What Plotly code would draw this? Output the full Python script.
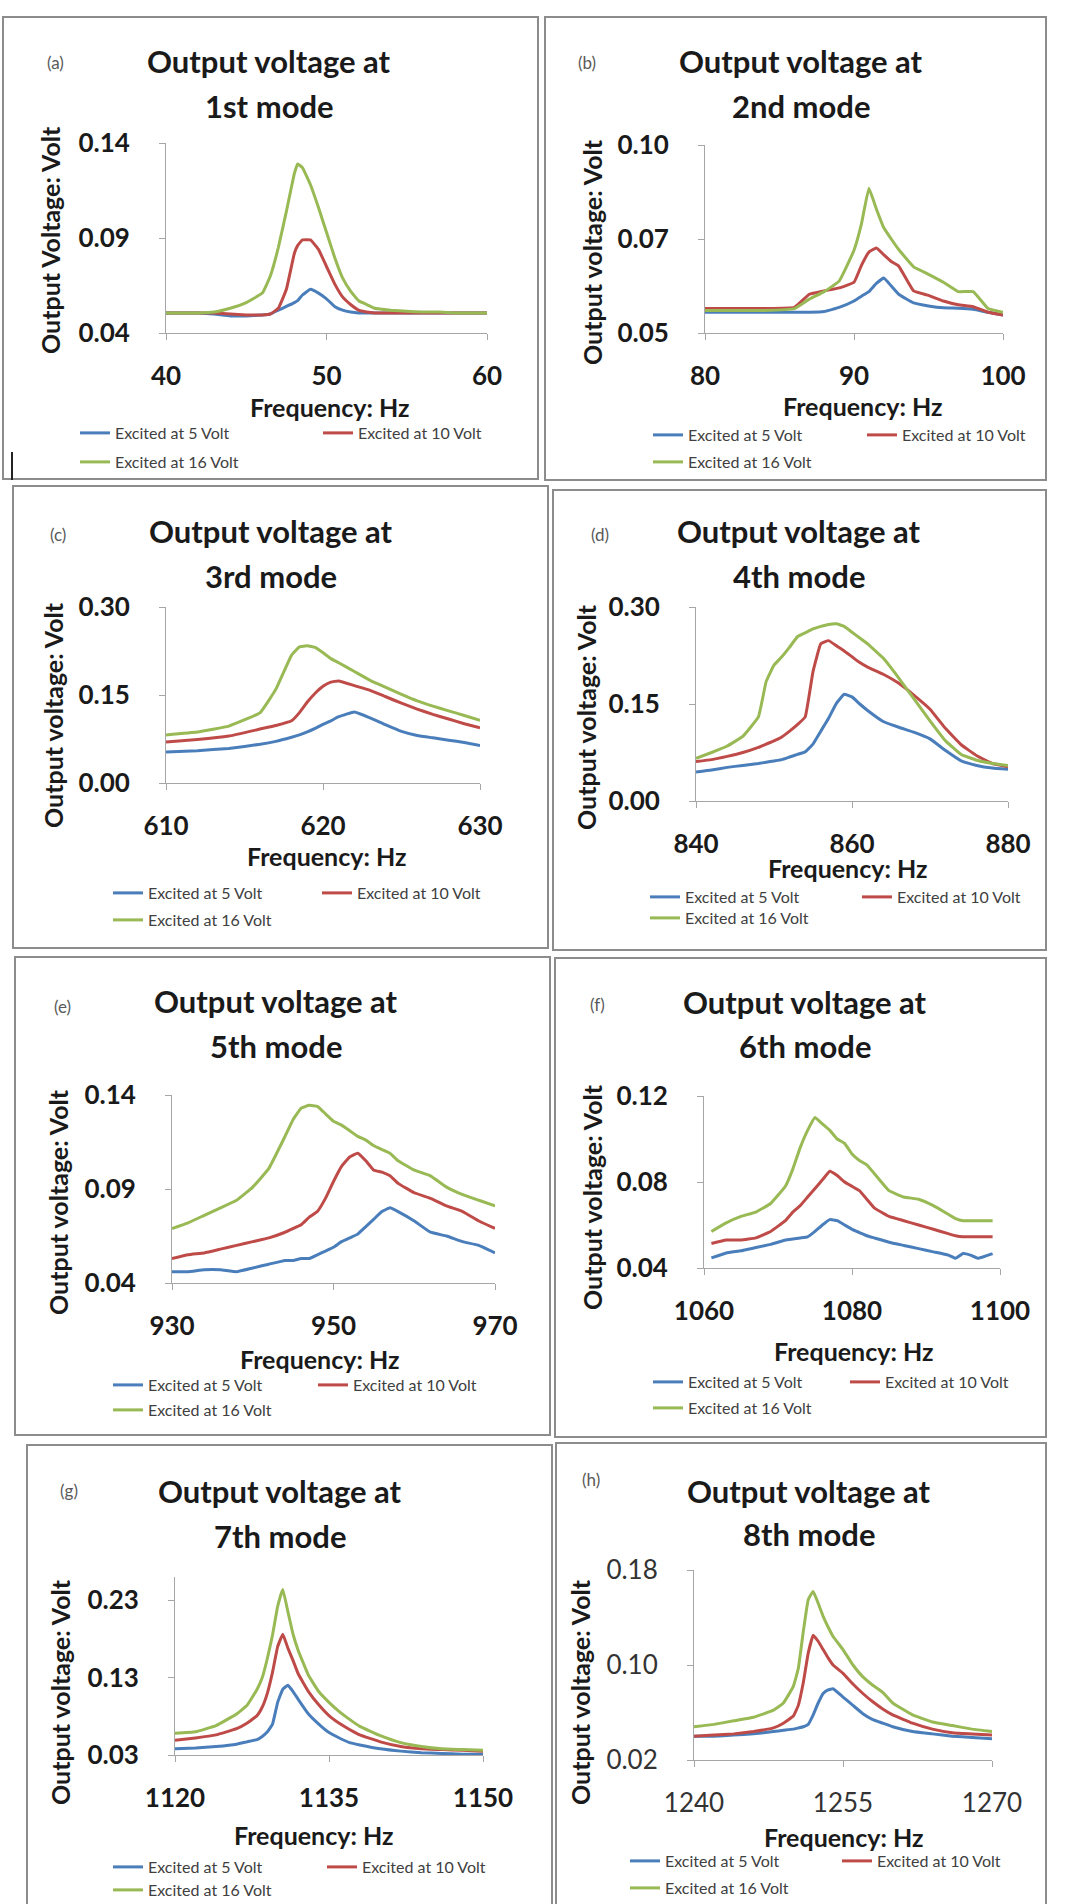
import plotly.graph_objects as go

W, H = 1072, 1904

series_names = ["Excited at 5 Volt", "Excited at 10 Volt", "Excited at 16 Volt"]
series_colors = ["#4A7EBB", "#BE4B48", "#98B954"]

# ---------------- data ----------------
freq_a = [40, 41, 42, 43, 44, 45, 46, 46.5, 47, 47.5, 48, 48.2, 48.5, 49, 49.5, 50, 50.5, 51, 51.5, 52, 52.5, 53, 54, 55, 56, 57, 58, 59, 60]
v5_a = [0.0505, 0.0505, 0.0505, 0.050, 0.049, 0.049, 0.0495, 0.050, 0.052, 0.054, 0.056, 0.057, 0.060, 0.063, 0.061, 0.058, 0.054, 0.052, 0.051, 0.0505, 0.0505, 0.0505, 0.0505, 0.0505, 0.0505, 0.0505, 0.0505, 0.0505, 0.0505]
v10_a = [0.0505, 0.0505, 0.0505, 0.0505, 0.050, 0.0495, 0.0495, 0.050, 0.053, 0.063, 0.082, 0.086, 0.089, 0.089, 0.084, 0.075, 0.066, 0.059, 0.055, 0.052, 0.051, 0.0505, 0.0505, 0.0505, 0.0505, 0.0505, 0.0505, 0.0505, 0.0505]
v16_a = [0.0505, 0.0505, 0.0505, 0.051, 0.053, 0.056, 0.061, 0.070, 0.085, 0.104, 0.124, 0.129, 0.127, 0.118, 0.106, 0.093, 0.080, 0.069, 0.062, 0.057, 0.055, 0.053, 0.052, 0.0515, 0.051, 0.051, 0.0505, 0.0505, 0.0505]

freq_b = [80, 82, 84, 86, 87, 88, 89, 90, 90.5, 91, 91.5, 92, 92.5, 93, 94, 95, 96, 97, 98, 99, 100]
v5_b = [0.0555, 0.0555, 0.0555, 0.0555, 0.0555, 0.0557, 0.0568, 0.0585, 0.0598, 0.061, 0.0632, 0.0646, 0.0625, 0.0603, 0.058, 0.0572, 0.0567, 0.0566, 0.0563, 0.0555, 0.0548]
v10_b = [0.0565, 0.0565, 0.0565, 0.0568, 0.0603, 0.0612, 0.062, 0.0635, 0.068, 0.0715, 0.0726, 0.0708, 0.069, 0.0678, 0.0612, 0.060, 0.0585, 0.0575, 0.057, 0.0555, 0.0548]
v16_b = [0.056, 0.056, 0.056, 0.0565, 0.059, 0.061, 0.0638, 0.072, 0.079, 0.0885, 0.083, 0.078, 0.075, 0.0722, 0.0676, 0.0656, 0.0635, 0.061, 0.061, 0.0565, 0.0555]

freq_c = [610, 612, 614, 616, 617, 618, 618.5, 619, 619.5, 620, 620.5, 621, 622, 623, 624, 625, 626, 627, 628, 629, 630]
v5_c = [0.053, 0.055, 0.059, 0.066, 0.071, 0.078, 0.082, 0.087, 0.093, 0.100, 0.106, 0.113, 0.121, 0.111, 0.099, 0.088, 0.081, 0.077, 0.073, 0.069, 0.064]
v10_c = [0.070, 0.074, 0.080, 0.092, 0.098, 0.106, 0.120, 0.138, 0.153, 0.165, 0.172, 0.174, 0.166, 0.158, 0.147, 0.136, 0.126, 0.117, 0.109, 0.101, 0.094]
v16_c = [0.082, 0.087, 0.097, 0.120, 0.160, 0.218, 0.232, 0.234, 0.231, 0.222, 0.212, 0.205, 0.190, 0.175, 0.163, 0.151, 0.140, 0.131, 0.123, 0.115, 0.107]

freq_d = [840, 842, 844, 846, 848, 849, 850, 851, 852, 853, 854, 855, 856, 857, 858, 859, 860, 861, 862, 864, 866, 868, 870, 872, 874, 876, 878, 880]
v5_d = [0.045, 0.048, 0.052, 0.055, 0.058, 0.060, 0.062, 0.064, 0.068, 0.072, 0.076, 0.088, 0.108, 0.128, 0.151, 0.165, 0.161, 0.150, 0.140, 0.123, 0.114, 0.106, 0.096, 0.078, 0.062, 0.055, 0.051, 0.049]
v10_d = [0.061, 0.064, 0.069, 0.075, 0.083, 0.088, 0.093, 0.099, 0.108, 0.118, 0.130, 0.200, 0.243, 0.248, 0.240, 0.232, 0.223, 0.214, 0.207, 0.196, 0.182, 0.163, 0.142, 0.112, 0.087, 0.070, 0.058, 0.053]
v16_d = [0.066, 0.075, 0.085, 0.100, 0.130, 0.185, 0.210, 0.223, 0.238, 0.254, 0.260, 0.266, 0.270, 0.273, 0.274, 0.270, 0.261, 0.252, 0.243, 0.221, 0.190, 0.157, 0.124, 0.093, 0.072, 0.063, 0.058, 0.055]

freq_e = [930, 932, 934, 936, 938, 940, 942, 944, 945, 946, 947, 948, 949, 950, 951, 952, 953, 954, 955, 956, 957, 958, 960, 962, 964, 966, 968, 970]
v5_e = [0.046, 0.046, 0.047, 0.047, 0.046, 0.048, 0.050, 0.052, 0.052, 0.053, 0.053, 0.055, 0.057, 0.059, 0.062, 0.064, 0.066, 0.070, 0.074, 0.078, 0.080, 0.078, 0.073, 0.067, 0.065, 0.062, 0.060, 0.056]
v10_e = [0.053, 0.055, 0.056, 0.058, 0.060, 0.062, 0.064, 0.067, 0.069, 0.071, 0.075, 0.078, 0.085, 0.094, 0.102, 0.107, 0.109, 0.105, 0.100, 0.099, 0.097, 0.093, 0.088, 0.085, 0.081, 0.078, 0.073, 0.069]
v16_e = [0.069, 0.072, 0.076, 0.080, 0.084, 0.091, 0.101, 0.118, 0.127, 0.133, 0.1345, 0.134, 0.130, 0.126, 0.124, 0.121, 0.118, 0.116, 0.113, 0.111, 0.109, 0.105, 0.100, 0.097, 0.091, 0.087, 0.084, 0.081]

freq_f = [1061, 1063, 1065, 1067, 1069, 1071, 1072, 1073, 1074, 1075, 1076, 1077, 1078, 1079, 1080, 1081, 1082, 1083, 1085, 1087, 1089, 1091, 1093, 1094, 1095, 1096, 1097, 1098, 1099]
v5_f = [0.0447, 0.047, 0.048, 0.0495, 0.051, 0.053, 0.0535, 0.054, 0.0545, 0.057, 0.060, 0.0625, 0.062, 0.060, 0.058, 0.0565, 0.055, 0.054, 0.052, 0.0505, 0.049, 0.0475, 0.046, 0.0445, 0.0467, 0.046, 0.0445, 0.0455, 0.0467]
v10_f = [0.0514, 0.053, 0.053, 0.054, 0.057, 0.062, 0.066, 0.069, 0.073, 0.077, 0.081, 0.085, 0.083, 0.080, 0.078, 0.076, 0.072, 0.068, 0.064, 0.062, 0.060, 0.058, 0.056, 0.055, 0.0545, 0.0545, 0.0545, 0.0545, 0.0545]
v16_f = [0.057, 0.061, 0.064, 0.066, 0.070, 0.078, 0.086, 0.096, 0.104, 0.110, 0.107, 0.104, 0.100, 0.098, 0.093, 0.090, 0.088, 0.084, 0.076, 0.073, 0.072, 0.069, 0.065, 0.063, 0.062, 0.062, 0.062, 0.062, 0.062]

freq_g = [1120, 1122, 1124, 1126, 1127, 1128, 1128.5, 1129, 1129.5, 1130, 1130.5, 1131, 1131.5, 1132, 1133, 1134, 1135, 1136, 1137, 1138, 1140, 1142, 1144, 1146, 1148, 1150]
v5_g = [0.038, 0.039, 0.041, 0.044, 0.047, 0.050, 0.054, 0.060, 0.070, 0.098, 0.115, 0.120, 0.112, 0.102, 0.083, 0.070, 0.059, 0.052, 0.046, 0.043, 0.038, 0.035, 0.033, 0.032, 0.031, 0.031]
v10_g = [0.049, 0.052, 0.056, 0.064, 0.071, 0.081, 0.092, 0.110, 0.137, 0.170, 0.186, 0.168, 0.152, 0.135, 0.112, 0.095, 0.081, 0.071, 0.063, 0.056, 0.047, 0.041, 0.038, 0.037, 0.036, 0.035]
v16_g = [0.058, 0.060, 0.068, 0.083, 0.094, 0.115, 0.130, 0.155, 0.185, 0.222, 0.244, 0.215, 0.186, 0.165, 0.133, 0.112, 0.098, 0.086, 0.076, 0.067, 0.055, 0.046, 0.041, 0.038, 0.037, 0.036]

freq_h = [1240, 1242, 1244, 1246, 1248, 1249, 1250, 1250.5, 1251, 1251.5, 1252, 1252.5, 1253, 1253.5, 1254, 1255, 1256, 1257, 1258, 1259, 1260, 1262, 1264, 1266, 1268, 1270]
v5_h = [0.040, 0.040, 0.041, 0.042, 0.044, 0.045, 0.046, 0.047, 0.048, 0.050, 0.058, 0.068, 0.076, 0.079, 0.080, 0.073, 0.066, 0.059, 0.054, 0.051, 0.048, 0.044, 0.042, 0.040, 0.039, 0.038]
v10_h = [0.040, 0.041, 0.042, 0.044, 0.047, 0.051, 0.057, 0.066, 0.085, 0.110, 0.125, 0.120, 0.113, 0.106, 0.100, 0.093, 0.084, 0.076, 0.069, 0.063, 0.058, 0.051, 0.046, 0.043, 0.042, 0.041]
v16_h = [0.048, 0.050, 0.053, 0.056, 0.062, 0.068, 0.082, 0.097, 0.128, 0.155, 0.162, 0.152, 0.141, 0.132, 0.124, 0.113, 0.100, 0.090, 0.083, 0.077, 0.068, 0.058, 0.052, 0.049, 0.046, 0.044]

panel_labels = ["(a)", "(b)", "(c)", "(d)", "(e)", "(f)", "(g)", "(h)"]
mode_names = ["1st mode", "2nd mode", "3rd mode", "4th mode", "5th mode", "6th mode", "7th mode", "8th mode"]
title_line1 = "Output voltage at"
y_titles = ["Output Voltage: Volt"] + ["Output voltage: Volt"] * 7
x_title = "Frequency: Hz"

freqs = [freq_a, freq_b, freq_c, freq_d, freq_e, freq_f, freq_g, freq_h]
values = [
    [v5_a, v10_a, v16_a], [v5_b, v10_b, v16_b], [v5_c, v10_c, v16_c], [v5_d, v10_d, v16_d],
    [v5_e, v10_e, v16_e], [v5_f, v10_f, v16_f], [v5_g, v10_g, v16_g], [v5_h, v10_h, v16_h],
]
x_ranges = [[40, 60], [80, 100], [610, 630], [840, 880], [930, 970], [1060, 1100], [1120, 1150], [1240, 1270]]
x_ticks = [[40, 50, 60], [80, 90, 100], [610, 620, 630], [840, 860, 880], [930, 950, 970], [1060, 1080, 1100], [1120, 1135, 1150], [1240, 1255, 1270]]
y_ranges = [[0.04, 0.14], [0.05, 0.10], [0.0, 0.30], [0.0, 0.30], [0.04, 0.14], [0.04, 0.12], [0.03, 0.26], [0.02, 0.18]]
y_ticks = [[0.04, 0.09, 0.14], [0.05, 0.075, 0.10], [0.0, 0.15, 0.30], [0.0, 0.15, 0.30], [0.04, 0.09, 0.14], [0.04, 0.08, 0.12], [0.03, 0.13, 0.23], [0.02, 0.10, 0.18]]
y_tick_text = [["0.04", "0.09", "0.14"], ["0.05", "0.07", "0.10"], ["0.00", "0.15", "0.30"], ["0.00", "0.15", "0.30"],
               ["0.04", "0.09", "0.14"], ["0.04", "0.08", "0.12"], ["0.03", "0.13", "0.23"], ["0.02", "0.10", "0.18"]]

# ---------------- geometry (pixels in the 1072x1904 page) ----------------
boxes = [(3, 17, 538, 479), (545, 17, 1046, 480), (13, 486, 548, 948), (553, 490, 1046, 950),
         (15, 957, 550, 1435), (555, 958, 1046, 1437), (27, 1445, 552, 1912), (556, 1443, 1046, 1912)]
plots = [(166, 143, 487, 333), (705, 145, 1003, 333), (166, 607, 480, 783), (696, 607, 1008, 801),
         (172, 1095, 495, 1283), (704, 1096, 1000, 1268), (175, 1577, 483, 1755), (694, 1570, 992, 1760)]
title_pos = [(269, 61, 106), (801, 61, 106), (271, 531, 576), (799, 531, 576),
             (276, 1001, 1046), (805, 1002, 1046), (280, 1491, 1536), (809, 1491, 1534)]
label_pos = [(55, 63), (587, 63), (58, 534), (600, 534), (62, 1006), (597, 1004), (69, 1490), (591, 1479)]
ytitle_pos = [(50, 240), (592, 252), (53, 715), (586, 717), (58, 1202), (592, 1197), (60, 1692), (580, 1692)]
xtitle_pos = [(330, 407), (862, 406), (326, 856), (847, 868), (319, 1359), (853, 1351), (313, 1835), (843, 1837)]
# legend: (line end x of left column entries, line end x of right entry, row1 y, row2 y)
legend_pos = [(110, 353, 433, 462), (683, 897, 435, 462), (143, 352, 893, 920), (680, 892, 897, 918),
              (143, 348, 1385, 1410), (683, 880, 1382, 1408), (143, 357, 1867, 1890), (660, 872, 1861, 1888)]
bold_ticks = [True, True, True, True, True, True, True, False]

FONT = "Lato, 'Open Sans', sans-serif"


def px(x):
    return x / W


def py(y):
    return 1 - y / H


fig = go.Figure()
layout = dict(
    width=W, height=H, margin=dict(l=0, r=0, t=0, b=0, pad=0, autoexpand=False),
    paper_bgcolor="white", plot_bgcolor="white", showlegend=True,
    font=dict(family=FONT, color="#1a1a1a"),
)
annotations = []
shapes = []

for i in range(8):
    ax = "" if i == 0 else str(i + 1)
    x0, y0, x1, y1 = plots[i]
    tick_font = dict(family=FONT, size=26, color="#1a1a1a" if bold_ticks[i] else "#333333",
                     weight="bold" if bold_ticks[i] else "normal")
    layout["xaxis" + ax] = dict(
        domain=[px(x0), px(x1)], range=x_ranges[i], tickvals=x_ticks[i], anchor="y" + ax,
        showline=True, linecolor="#A6A6A6", linewidth=1, ticks="outside", ticklen=6, tickcolor="#A6A6A6",
        showgrid=False, zeroline=False, tickfont=tick_font, ticklabelstandoff=14, fixedrange=True,
        automargin=False,
    )
    layout["yaxis" + ax] = dict(
        domain=[py(y1), py(y0)], range=y_ranges[i], tickvals=y_ticks[i], ticktext=y_tick_text[i], anchor="x" + ax,
        showline=True, linecolor="#A6A6A6", linewidth=1, ticks="outside", ticklen=6, tickcolor="#A6A6A6",
        showgrid=False, zeroline=False, tickfont=tick_font, ticklabelstandoff=24, fixedrange=True,
        automargin=False,
    )

    lx_left, lx_right, ly1, ly2 = legend_pos[i]
    entry_pos = [(lx_left, ly1), (lx_right, ly1), (lx_left, ly2)]
    for k in range(3):
        n = i * 3 + k + 1
        lg = "legend" if n == 1 else "legend%d" % n
        fig.add_trace(go.Scatter(
            x=freqs[i], y=values[i][k], mode="lines", name=series_names[k],
            line=dict(color=series_colors[k], width=3, shape="spline", smoothing=0.3),
            xaxis="x" + ax, yaxis="y" + ax, legend=lg, showlegend=True, hoverinfo="x+y+name",
        ))
        ex, ey = entry_pos[k]
        layout[lg] = dict(
            x=px(ex - 35), y=py(ey), xanchor="left", yanchor="middle", orientation="h",
            bgcolor="rgba(0,0,0,0)", borderwidth=0, font=dict(family=FONT, size=16, color="#404040"),
            tracegroupgap=0, itemclick=False, itemdoubleclick=False,
        )

    bx0, by0, bx1, by1 = boxes[i]
    shapes.append(dict(type="rect", xref="paper", yref="paper", x0=px(bx0), x1=px(bx1), y0=py(by1), y1=py(by0),
                       line=dict(color="#8C8C8C", width=2), fillcolor="rgba(0,0,0,0)", layer="below"))

    tx, ty1, ty2 = title_pos[i]
    annotations.append(dict(text=title_line1, x=px(tx), y=py(ty1), xref="paper", yref="paper", showarrow=False,
                            xanchor="center", yanchor="middle", font=dict(family=FONT, size=31, color="#1a1a1a", weight="bold")))
    annotations.append(dict(text=mode_names[i], x=px(tx), y=py(ty2), xref="paper", yref="paper", showarrow=False,
                            xanchor="center", yanchor="middle", font=dict(family=FONT, size=31, color="#1a1a1a", weight="bold")))
    lx, lyy = label_pos[i]
    annotations.append(dict(text=panel_labels[i], x=px(lx), y=py(lyy), xref="paper", yref="paper", showarrow=False,
                            xanchor="center", yanchor="middle", font=dict(family=FONT, size=17, color="#595959")))
    yx, yy = ytitle_pos[i]
    annotations.append(dict(text=y_titles[i], x=px(yx), y=py(yy), xref="paper", yref="paper", showarrow=False,
                            textangle=-90, xanchor="center", yanchor="middle",
                            font=dict(family=FONT, size=25, color="#1a1a1a", weight="bold")))
    xx, xy = xtitle_pos[i]
    annotations.append(dict(text=x_title, x=px(xx), y=py(xy), xref="paper", yref="paper", showarrow=False,
                            xanchor="center", yanchor="middle",
                            font=dict(family=FONT, size=25, color="#1a1a1a", weight="bold")))

# small dark mark at the lower left of panel (a)
shapes.append(dict(type="line", xref="paper", yref="paper", x0=px(12), x1=px(12), y0=py(480), y1=py(452),
                   line=dict(color="#222222", width=2)))

layout["annotations"] = annotations
layout["shapes"] = shapes
fig.update_layout(**layout)
fig.write_html("out.html")
